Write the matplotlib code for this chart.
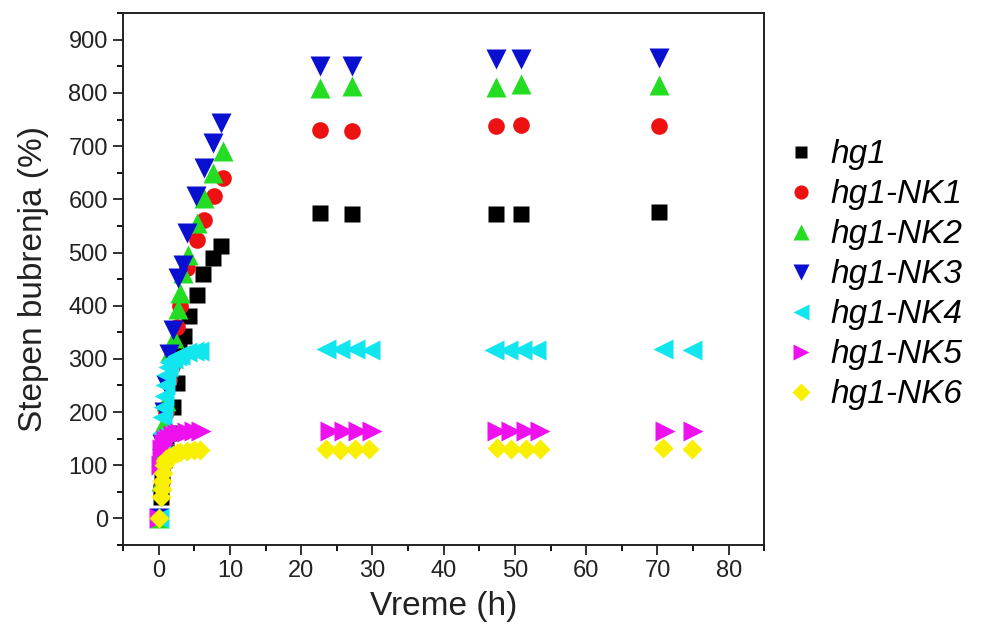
import matplotlib
matplotlib.use("Agg")
from matplotlib import pyplot as plt
from matplotlib.ticker import MultipleLocator

plt.rcParams['font.family'] = ['Liberation Sans', 'DejaVu Sans']

# hg1
t_hg1 = [0, 0.25, 0.5, 0.75, 1, 1.5, 2, 2.5, 2.9, 3.6, 4.3, 5.3, 6.2, 7.6, 8.7,
         22.6, 27.1, 47.3, 50.9, 70.2]
v_hg1 = [0, 40, 80, 110, 140, 161, 210, 255, 318, 343, 380, 421, 459, 490, 512,
         574, 573, 573, 573, 577]

# hg1-NK1
t_nk1 = [0, 0.25, 0.5, 0.75, 1, 1.5, 1.8, 2.5, 3.0, 4.0, 5.3, 6.4, 7.8, 9.0,
         22.6, 27.1, 47.3, 50.9, 70.2]
v_nk1 = [0, 60, 110, 160, 200, 260, 286, 360, 399, 470, 524, 562, 606, 640,
         731, 728, 737, 739, 737]

# hg1-NK2
t_nk2 = [0, 0.25, 0.5, 0.75, 1, 1.6, 2.1, 2.7, 3.0, 3.4, 4.1, 5.3, 6.4, 7.6, 9.0,
         22.6, 27.1, 47.3, 50.9, 70.2]
v_nk2 = [0, 70, 130, 180, 220, 312, 340, 393, 424, 462, 496, 556, 603, 650, 690,
         810, 814, 812, 816, 815]

# hg1-NK3
t_nk3 = [0, 0.25, 0.5, 0.75, 1, 1.5, 2.0, 2.7, 3.4, 3.9, 5.2, 6.4, 7.6, 8.7,
         22.6, 27.1, 47.3, 50.9, 70.2]
v_nk3 = [0, 80, 140, 200, 250, 310, 355, 452, 477, 537, 606, 659, 706, 744,
         850, 851, 864, 864, 866]

# hg1-NK4
t_nk4 = [0, 0.25, 0.4, 0.5, 0.6, 0.75, 0.9, 1.0, 1.25, 1.5, 2, 2.5, 3, 4, 5, 5.7,
         23.5, 25.5, 27.5, 29.7, 47.0, 49.0, 51.0, 53.0, 70.8, 74.8]
v_nk4 = [0, 130, 160, 190, 210, 230, 250, 270, 285, 295, 300, 305, 308, 312, 315, 315,
         318, 318, 318, 317, 317, 317, 317, 317, 318, 317]

# hg1-NK5
t_nk5 = [0, 0.25, 0.5, 0.75, 1, 1.5, 2, 2.5, 3, 4, 5, 6,
         24.0, 26.0, 28.0, 30.0, 47.5, 49.5, 51.5, 53.5, 71.0, 75.0]
v_nk5 = [0, 100, 130, 140, 148, 152, 156, 158, 160, 162, 164, 165,
         164, 164, 164, 164, 164, 164, 164, 164, 165, 164]

# hg1-NK6
t_nk6 = [0, 0.33, 0.42, 0.5, 0.58, 0.67, 0.83, 1, 1.5, 2, 2.5, 3, 4, 5, 5.8,
         23.5, 25.5, 27.5, 29.5, 47.5, 49.5, 51.5, 53.5, 70.8, 74.8]
v_nk6 = [0, 40, 55, 70, 85, 100, 108, 112, 116, 120, 122, 124, 126, 128, 128,
         130, 128, 130, 130, 132, 130, 130, 130, 132, 130]

fig = plt.figure(figsize=(9.85, 6.3), dpi=100)
ax = fig.add_axes([0.125, 0.135, 0.651, 0.844])

ax.plot(t_hg1, v_hg1, 's', color='#000000', ms=11, mec='none', label='hg1')
ax.plot(t_nk1, v_nk1, 'o', color='#ee1111', ms=12, mec='none', label='hg1-NK1')
ax.plot(t_nk2, v_nk2, '^', color='#22dd22', ms=14, mec='none', label='hg1-NK2')
ax.plot(t_nk3, v_nk3, 'v', color='#0a10d0', ms=14, mec='none', label='hg1-NK3')
ax.plot(t_nk4, v_nk4, '<', color='#11e5ee', ms=14, mec='none', label='hg1-NK4')
ax.plot(t_nk5, v_nk5, '>', color='#ee11ee', ms=14, mec='none', label='hg1-NK5')
ax.plot(t_nk6, v_nk6, 'D', color='#f8f000', ms=10.5, mec='none', label='hg1-NK6')

ax.set_xlim(-5, 85)
ax.set_ylim(-50, 950)
ax.xaxis.set_major_locator(MultipleLocator(10))
ax.xaxis.set_minor_locator(MultipleLocator(5))
ax.yaxis.set_major_locator(MultipleLocator(100))
ax.yaxis.set_minor_locator(MultipleLocator(50))
ax.tick_params(which='major', direction='out', length=7, width=1.3, labelsize=17,
               colors='#222222', pad=4)
ax.tick_params(which='minor', direction='out', length=4, width=1.3)
for s in ax.spines.values():
    s.set_linewidth(1.4)
    s.set_color('#222222')

ax.set_xlabel("Vreme (h)", fontsize=24, labelpad=6, color='#222222')
ax.set_ylabel("Stepen bubrenja (%)", fontsize=24, labelpad=14, color='#222222')

leg = ax.legend(loc='upper left', bbox_to_anchor=(0.779, 0.80),
                bbox_transform=fig.transFigure, frameon=False,
                prop={'style': 'italic', 'size': 24}, handletextpad=0.3,
                labelspacing=0.27, borderaxespad=0, markerscale=0.85,
                handlelength=1.2)

plt.savefig("out.png", dpi=100)
